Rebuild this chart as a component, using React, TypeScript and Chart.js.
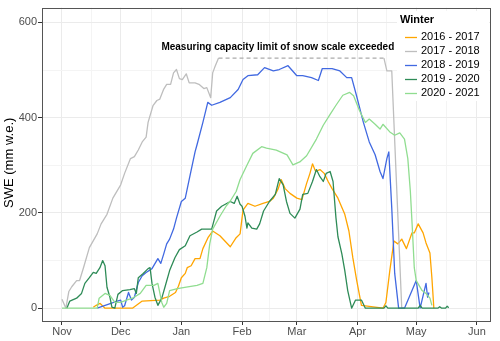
import React, { useEffect, useRef } from "react";
import { Chart, registerables } from "chart.js";

Chart.register(...registerables);

// x axis: days since 1 November
const MONTH_LABELS = ["Nov", "Dec", "Jan", "Feb", "Mar", "Apr", "May", "Jun"];
const MONTH_DAYS = [0, 30, 61, 92, 120, 151, 181, 212];
const MINOR_DAYS = [15, 45.5, 76.5, 106, 135.5, 166, 196.5];
const Y_MAJOR = [0, 200, 400, 600];
const Y_MINOR = [100, 300, 500];

const SERIES_NAMES = ["2016 - 2017", "2017 - 2018", "2018 - 2019", "2019 - 2020", "2020 - 2021"];
const SERIES_COLORS = ["#FFA500", "#BEBEBE", "#4169E1", "#2E8B57", "#90DD90"];

// 2016 - 2017
const O_DAYS = [16, 17.5, 19.5, 22, 36, 41, 50, 52, 55, 58, 59.5, 61, 63, 64, 66, 68, 70.5, 72, 74.6, 77, 80.7, 86, 89, 91, 92.5, 95, 98.6, 102.7, 106, 108, 110.5, 112, 114, 116.5, 120, 122.6, 125, 126.7, 128, 129.6, 131.8, 134, 136, 138, 141, 144.5, 146.6, 148.6, 150.6, 153, 164, 165.5, 167.5, 169.6, 171.6, 173.6, 176, 178.8, 180, 182, 184.5, 186, 188, 189, 190];
const O_VALS = [2, 6, 10, 0, 0, 15, 17, 21, 25, 33, 46, 64, 73, 85, 89, 104, 104, 125, 148, 162, 152, 129, 148, 156, 206, 220, 214, 220, 224, 231, 251, 270, 251, 241, 231, 228, 262, 283, 303, 287, 291, 283, 266, 251, 231, 197, 162, 106, 58, 6, 0, 12, 79, 141, 135, 145, 125, 158, 158, 177, 158, 137, 116, 64, 0];

// 2017 - 2018 (null = above capacity of the snow scale)
const G_DAYS = [0, 2, 3.5, 5, 7.5, 9, 11, 14, 18, 20, 23, 26, 30, 32, 35, 37, 39, 41, 43, 44, 46.5, 48.5, 50, 52, 53.5, 55.5, 57, 58.5, 60, 61.5, 63.5, 65, 68, 70, 72.5, 74, 75.6, 76, 77, 78, 80, 120, 164.5, 166, 168.5, 173.6, 175];
const G_VALS = [19, 0, 35, 45, 58, 58, 85, 127, 156, 177, 197, 231, 259, 283, 314, 318, 332, 349, 359, 390, 425, 436, 439, 460, 470, 470, 494, 501, 482, 480, 492, 473, 473, 470, 461, 463, 446, 442, 494, 505, 525, null, 525, 498, 498, 0, 0];

// capacity limit segment
const LIMIT_DAYS = [80, 164.5];
const LIMIT_VALS = [525, 525];

// 2018 - 2019
const B_DAYS = [18, 25, 27, 30, 31, 32, 34, 35.5, 37, 39, 41, 43, 46, 49, 50.5, 52, 53.5, 55, 57, 58.5, 61, 63, 65.5, 68, 69, 72, 74.5, 76.5, 80.7, 86, 90, 92.5, 95, 100, 103.5, 108, 111, 115.5, 120, 123, 127.5, 131, 133, 138, 142, 145.5, 148, 150.5, 154, 157, 160, 162.5, 164, 166, 167, 168.5, 170, 172, 175, 181, 183, 186, 186.8, 187.5];
const B_VALS = [0, 10, 13, 17, 2, 5, 33, 17, 23, 54, 68, 75, 83, 104, 94, 114, 135, 145, 166, 189, 224, 231, 280, 328, 343, 390, 432, 426, 432, 442, 459, 480, 488, 490, 505, 498, 501, 509, 488, 488, 484, 478, 503, 503, 498, 484, 484, 446, 390, 349, 322, 287, 272, 314, 328, 210, 73, 0, 0, 58, 0, 52, 23, 33];

// 2019 - 2020
const DG_DAYS = [2.5, 4, 7.5, 10, 11.7, 14, 16, 17.5, 19.4, 20.8, 22, 23, 24.5, 25.5, 27, 28.6, 31, 34.7, 37, 38, 39, 41.5, 44, 45, 46, 47.5, 49, 51, 52.6, 55, 57.7, 60, 63, 65.4, 69, 71.4, 76.5, 79, 81.6, 86, 88, 89.5, 91, 92, 93.5, 94.5, 95, 97, 99.5, 101, 103, 106, 109, 111, 113, 114.7, 116.5, 119, 121.6, 123, 125.6, 128, 130, 131.8, 133.5, 135, 137, 138.5, 140, 141, 143, 144.5, 146, 148, 150, 153, 155, 164.5, 165.5, 166.5, 182, 183, 184, 192, 193, 194, 196, 196.8, 197.6];
const DG_VALS = [0, 15, 21, 31, 52, 64, 75, 73, 85, 100, 89, 44, 23, 2, 0, 29, 37, 39, 41, 31, 64, 73, 83, 85, 52, 23, 6, 21, 44, 79, 106, 123, 131, 152, 160, 166, 166, 204, 214, 224, 220, 235, 218, 214, 193, 168, 179, 168, 166, 177, 204, 224, 239, 272, 259, 224, 199, 189, 208, 239, 241, 266, 291, 276, 266, 283, 287, 266, 189, 150, 114, 79, 37, 0, 17, 17, 0, 0, 5, 0, 0, 6, 0, 0, 3, 0, 0, 4, 1];

// 2020 - 2021
const LG_DAYS = [0, 18, 19, 22, 24.5, 27, 30, 33, 36, 40, 43, 47, 49, 51, 52, 53.5, 55, 59, 63.5, 69, 72, 74, 75.5, 77, 80.7, 84, 86, 89, 91, 94.5, 97.5, 102, 104.5, 109.5, 115, 118, 121.5, 125, 130, 133.5, 137, 140, 143.5, 147, 149, 152, 155, 157, 160, 162.5, 164, 167.5, 170, 172.6, 175, 176.7, 178, 179, 180, 181, 184, 186, 188, 189];
const LG_VALS = [0, 0, 21, 31, 27, 12, 12, 17, 21, 31, 48, 48, 52, 12, 2, 10, 37, 41, 44, 48, 52, 85, 135, 166, 193, 215, 225, 245, 270, 300, 325, 339, 336, 332, 322, 301, 307, 320, 355, 384, 407, 426, 447, 453, 446, 415, 390, 397, 386, 376, 386, 370, 363, 368, 355, 314, 245, 168, 85, 58, 37, 31, 21, 6];

const ANNOTATION = "Measuring capacity limit of snow scale exceeded";
const ANNOTATION_DAY = 110.3;
const ANNOTATION_VAL = 541;
const LEGEND_TITLE = "Winter";
const Y_TITLE = "SWE (mm w.e.)";

const FONT = "'Liberation Sans', Arial, Helvetica, sans-serif";

function pts(days: number[], vals: (number | null)[]) {
  return days.map((d, i) => ({ x: d, y: vals[i] }));
}

export default function App() {
  const ref = useRef<HTMLCanvasElement>(null);

  useEffect(() => {
    document.body.style.margin = "0";
    const canvas = ref.current;
    if (!canvas) return;

    const seriesData = [
      pts(O_DAYS, O_VALS),
      pts(G_DAYS, G_VALS),
      pts(B_DAYS, B_VALS),
      pts(DG_DAYS, DG_VALS),
      pts(LG_DAYS, LG_VALS),
    ];

    const datasets: any[] = seriesData.map((d, i) => ({
      label: SERIES_NAMES[i],
      data: d,
      borderColor: SERIES_COLORS[i],
      backgroundColor: SERIES_COLORS[i],
      borderWidth: 1.3,
      pointRadius: 0,
      tension: 0,
      spanGaps: false,
      borderJoinStyle: "round",
      order: 10 - i,
    }));
    datasets.push({
      label: "limit",
      data: pts(LIMIT_DAYS, LIMIT_VALS),
      borderColor: "#ABABAB",
      borderWidth: 1.1,
      borderDash: [4, 3],
      pointRadius: 0,
      order: 20,
    });

    const overlay = {
      id: "overlay",
      afterDraw(chart: any) {
        const { ctx, chartArea, scales } = chart;
        const xs = scales.x;
        const ys = scales.y;
        ctx.save();
        // panel border
        ctx.strokeStyle = "#555555";
        ctx.lineWidth = 1;
        ctx.strokeRect(
          Math.round(chartArea.left) + 0.5,
          Math.round(chartArea.top) + 0.5,
          Math.round(chartArea.right - chartArea.left) - 1,
          Math.round(chartArea.bottom - chartArea.top) - 1
        );
        // annotation
        ctx.fillStyle = "#000000";
        ctx.font = `bold 10px ${FONT}`;
        ctx.textAlign = "center";
        ctx.textBaseline = "alphabetic";
        ctx.fillText(ANNOTATION, xs.getPixelForValue(ANNOTATION_DAY), ys.getPixelForValue(ANNOTATION_VAL));

        // legend
        const lx = 397;
        const ly = 11;
        ctx.fillStyle = "#ffffff";
        ctx.fillRect(lx, ly, 92, 90);
        ctx.fillStyle = "#000000";
        ctx.font = `bold 11px ${FONT}`;
        ctx.textAlign = "left";
        ctx.textBaseline = "middle";
        ctx.fillText(LEGEND_TITLE, 400, 20);
        ctx.font = `11px ${FONT}`;
        SERIES_NAMES.forEach((name, i) => {
          const y = 36.5 + i * 14;
          ctx.strokeStyle = SERIES_COLORS[i];
          ctx.lineWidth = 1.3;
          ctx.setLineDash([]);
          ctx.beginPath();
          ctx.moveTo(405, Math.round(y) + 0.5);
          ctx.lineTo(417, Math.round(y) + 0.5);
          ctx.stroke();
          ctx.fillStyle = "#000000";
          ctx.fillText(name, 421, y + 0.5);
        });

        // y axis title
        ctx.save();
        ctx.translate(9.5, (chartArea.top + chartArea.bottom) / 2 - 2);
        ctx.rotate(-Math.PI / 2);
        ctx.font = `13px ${FONT}`;
        ctx.textAlign = "center";
        ctx.textBaseline = "middle";
        ctx.fillStyle = "#000000";
        ctx.fillText(Y_TITLE, 0, 0);
        ctx.restore();
        ctx.restore();
      },
    };

    const isMajorX = (v: number) => MONTH_DAYS.indexOf(v) >= 0;
    const isMajorY = (v: number) => Y_MAJOR.indexOf(v) >= 0;

    const chart = new Chart(canvas, {
      type: "line",
      data: { datasets },
      options: {
        animation: false,
        responsive: false,
        devicePixelRatio: 1,
        layout: { padding: { top: 4, right: 9, left: 0, bottom: 0 } },
        plugins: {
          legend: { display: false },
          tooltip: { enabled: false },
        },
        scales: {
          x: {
            type: "linear",
            min: -10.2,
            max: 219.2,
            afterBuildTicks: (scale: any) => {
              scale.ticks = [...MONTH_DAYS, ...MINOR_DAYS]
                .sort((a, b) => a - b)
                .map((v) => ({ value: v }));
            },
            afterFit: (scale: any) => {
              scale.height = 19;
            },
            ticks: {
              autoSkip: false,
              maxRotation: 0,
              padding: 0,
              color: "#4d4d4d",
              font: { family: FONT, size: 11 },
              callback: (v: any) => {
                const i = MONTH_DAYS.indexOf(Number(v));
                return i >= 0 ? MONTH_LABELS[i] : "";
              },
            },
            grid: {
              color: (c: any) => (isMajorX(c.tick?.value) ? "#ebebeb" : "#f4f4f4"),
              lineWidth: 1,
              tickLength: 3,
              tickColor: (c: any) => (isMajorX(c.tick?.value) ? "#333333" : "rgba(0,0,0,0)"),
            },
            border: { display: false },
          },
          y: {
            type: "linear",
            min: -29,
            max: 631,
            afterBuildTicks: (scale: any) => {
              scale.ticks = [...Y_MAJOR, ...Y_MINOR].sort((a, b) => a - b).map((v) => ({ value: v }));
            },
            afterFit: (scale: any) => {
              scale.width = 42;
            },
            ticks: {
              autoSkip: false,
              padding: 1,
              color: "#4d4d4d",
              font: { family: FONT, size: 11 },
              callback: (v: any) => (isMajorY(Number(v)) ? String(v) : ""),
            },
            grid: {
              color: (c: any) => (isMajorY(c.tick?.value) ? "#ebebeb" : "#f4f4f4"),
              lineWidth: 1,
              tickLength: 4,
              tickColor: (c: any) => (isMajorY(c.tick?.value) ? "#333333" : "rgba(0,0,0,0)"),
            },
            border: { display: false },
          },
        },
      } as any,
      plugins: [overlay],
    });

    return () => chart.destroy();
  }, []);

  return (
    <div style={{ width: 500, height: 341 }}>
      <canvas ref={ref} width={500} height={341} style={{ display: "block" }} />
    </div>
  );
}
